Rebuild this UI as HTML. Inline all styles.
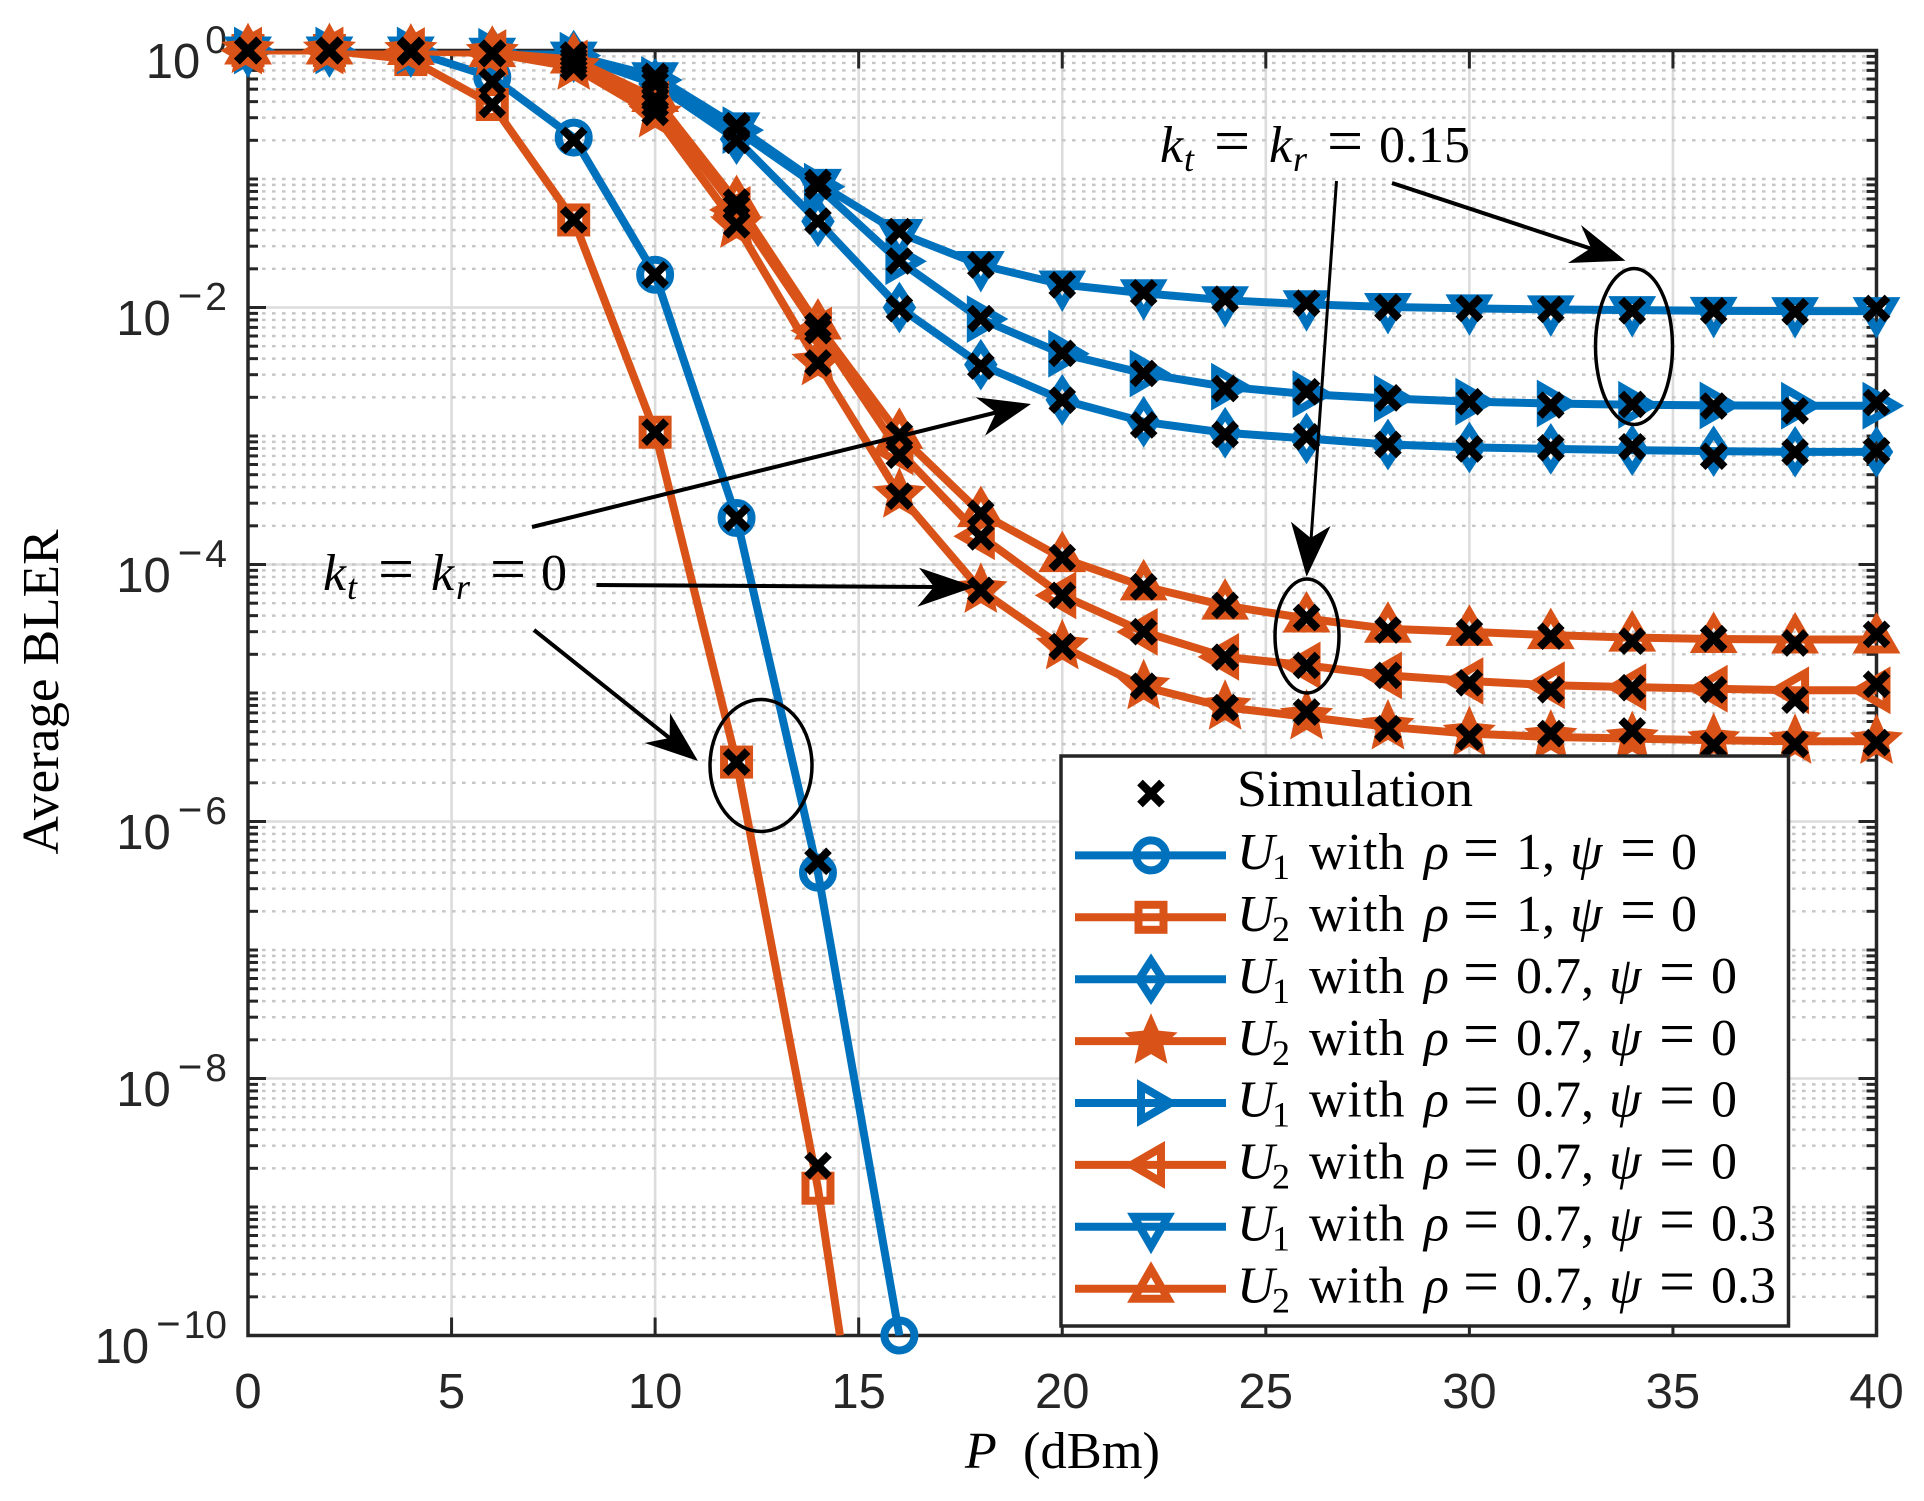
<!DOCTYPE html>
<html lang="en">
<head>
<meta charset="utf-8">
<title>Average BLER versus P</title>
<style>
  html, body { margin: 0; padding: 0; background: #fff; width: 1924px; height: 1501px; overflow: hidden; }
  svg { display: block; overflow: hidden; }
  .tick-text { font-family: "Liberation Sans", sans-serif; font-size: 49px; fill: #262626; }
  .math { font-family: "Liberation Serif", serif; font-size: 52px; fill: #000; }
  .it { font-style: italic; }
  .eq { font-size: 64px; }
  .sub { font-size: 36px; }
</style>
</head>
<body>
<svg id="chart" xmlns="http://www.w3.org/2000/svg" width="1924" height="1501" viewBox="0 0 1924 1501">
  <rect x="0" y="0" width="1924" height="1501" fill="#fff"/>
  <defs>
    <clipPath id="plot-clip"><rect x="248" y="50.5" width="1628.5" height="1285"/></clipPath>
  </defs>
  <g id="grid-layer"></g>
  <g id="axes-layer"></g>
  <g id="series-layer"></g>
  <g id="sim-layer"></g>

  <g fill="#000" stroke="none">
    <ellipse cx="1634" cy="346.5" rx="38.5" ry="78" fill="none" stroke="#000" stroke-width="3.5"/>
    <ellipse cx="1307" cy="636" rx="32" ry="57" fill="none" stroke="#000" stroke-width="3.5"/>
    <ellipse cx="761" cy="765.5" rx="51" ry="66" fill="none" stroke="#000" stroke-width="3.5"/>

    <g>
      <line x1="1392" y1="183" x2="1595" y2="250" stroke="#000" stroke-width="4"/>
      <polygon points="1625.5,260.7 1581,225 1591,248 1568,263"/>
    </g>
    <g>
      <line x1="1336.5" y1="181" x2="1311" y2="540" stroke="#000" stroke-width="3"/>
      <polygon points="1306.6,576.7 1291,521.7 1310.7,538 1330.6,526"/>
    </g>
    <g>
      <line x1="532" y1="527" x2="998" y2="412" stroke="#000" stroke-width="4"/>
      <polygon points="1031,404 975.6,397.3 996,412.6 985,435.7"/>
    </g>
    <g>
      <line x1="596.4" y1="585" x2="936" y2="587" stroke="#000" stroke-width="4"/>
      <polygon points="975,586.7 919,567.7 934,586.7 917.3,606.7"/>
    </g>
    <g>
      <line x1="534" y1="630" x2="672" y2="740" stroke="#000" stroke-width="4"/>
      <polygon points="698,761 670,713 669.6,738 644.6,743"/>
    </g>

    <text class="math" y="162"><tspan class="it" x="1160">k</tspan><tspan class="it sub" x="1184" dy="9">t</tspan><tspan class="eq" x="1214" dy="-9">=</tspan><tspan class="it" x="1269">k</tspan><tspan class="it sub" x="1293" dy="9">r</tspan><tspan class="eq" x="1327" dy="-9">=</tspan><tspan x="1379">0.15</tspan></text>
    <text class="math" y="590"><tspan class="it" x="323">k</tspan><tspan class="it sub" x="347" dy="9">t</tspan><tspan class="eq" x="378" dy="-9">=</tspan><tspan class="it" x="431">k</tspan><tspan class="it sub" x="456" dy="9">r</tspan><tspan class="eq" x="490" dy="-9">=</tspan><tspan x="541">0</tspan></text>
  </g>

  <g id="legend">
    <rect x="1061" y="756" width="727.5" height="570" fill="#fff" stroke="#262626" stroke-width="3.5"/>
    <g id="legend-icons"></g>
    <text class="math" x="1237" y="806" textLength="236" lengthAdjust="spacingAndGlyphs">Simulation</text>
    <text class="math" y="869"><tspan class="it" x="1237">U</tspan><tspan class="sub" x="1272" dy="10">1</tspan><tspan x="1309" dy="-10" letter-spacing="1">with</tspan><tspan class="it" x="1424">ρ</tspan><tspan class="eq" x="1463">=</tspan><tspan x="1516">1,</tspan><tspan class="it" x="1570">ψ</tspan><tspan class="eq" x="1620">=</tspan><tspan x="1671">0</tspan></text>
    <text class="math" y="931"><tspan class="it" x="1237">U</tspan><tspan class="sub" x="1272" dy="10">2</tspan><tspan x="1309" dy="-10" letter-spacing="1">with</tspan><tspan class="it" x="1424">ρ</tspan><tspan class="eq" x="1463">=</tspan><tspan x="1516">1,</tspan><tspan class="it" x="1570">ψ</tspan><tspan class="eq" x="1620">=</tspan><tspan x="1671">0</tspan></text>
    <text class="math" y="993"><tspan class="it" x="1237">U</tspan><tspan class="sub" x="1272" dy="10">1</tspan><tspan x="1309" dy="-10" letter-spacing="1">with</tspan><tspan class="it" x="1424">ρ</tspan><tspan class="eq" x="1463">=</tspan><tspan x="1516">0.7,</tspan><tspan class="it" x="1609">ψ</tspan><tspan class="eq" x="1659">=</tspan><tspan x="1711">0</tspan></text>
    <text class="math" y="1055"><tspan class="it" x="1237">U</tspan><tspan class="sub" x="1272" dy="10">2</tspan><tspan x="1309" dy="-10" letter-spacing="1">with</tspan><tspan class="it" x="1424">ρ</tspan><tspan class="eq" x="1463">=</tspan><tspan x="1516">0.7,</tspan><tspan class="it" x="1609">ψ</tspan><tspan class="eq" x="1659">=</tspan><tspan x="1711">0</tspan></text>
    <text class="math" y="1116.500"><tspan class="it" x="1237">U</tspan><tspan class="sub" x="1272" dy="10">1</tspan><tspan x="1309" dy="-10" letter-spacing="1">with</tspan><tspan class="it" x="1424">ρ</tspan><tspan class="eq" x="1463">=</tspan><tspan x="1516">0.7,</tspan><tspan class="it" x="1609">ψ</tspan><tspan class="eq" x="1659">=</tspan><tspan x="1711">0</tspan></text>
    <text class="math" y="1178.500"><tspan class="it" x="1237">U</tspan><tspan class="sub" x="1272" dy="10">2</tspan><tspan x="1309" dy="-10" letter-spacing="1">with</tspan><tspan class="it" x="1424">ρ</tspan><tspan class="eq" x="1463">=</tspan><tspan x="1516">0.7,</tspan><tspan class="it" x="1609">ψ</tspan><tspan class="eq" x="1659">=</tspan><tspan x="1711">0</tspan></text>
    <text class="math" y="1240.500"><tspan class="it" x="1237">U</tspan><tspan class="sub" x="1272" dy="10">1</tspan><tspan x="1309" dy="-10" letter-spacing="1">with</tspan><tspan class="it" x="1424">ρ</tspan><tspan class="eq" x="1463">=</tspan><tspan x="1516">0.7,</tspan><tspan class="it" x="1609">ψ</tspan><tspan class="eq" x="1659">=</tspan><tspan x="1711">0.3</tspan></text>
    <text class="math" y="1302.500"><tspan class="it" x="1237">U</tspan><tspan class="sub" x="1272" dy="10">2</tspan><tspan x="1309" dy="-10" letter-spacing="1">with</tspan><tspan class="it" x="1424">ρ</tspan><tspan class="eq" x="1463">=</tspan><tspan x="1516">0.7,</tspan><tspan class="it" x="1609">ψ</tspan><tspan class="eq" x="1659">=</tspan><tspan x="1711">0.3</tspan></text>
  </g>

  <text class="math" y="1468" font-size="50"><tspan class="it" x="965">P</tspan><tspan x="1023" textLength="137" lengthAdjust="spacingAndGlyphs">(dBm)</tspan></text>
  <text class="math" transform="translate(58,692) rotate(-90)" text-anchor="middle" textLength="325" lengthAdjust="spacingAndGlyphs">Average BLER</text>
</svg>

<script>
// ---- chart data ----
const powerDbm = [0,2,4,6,8,10,12,14,16,18,20,22,24,26,28,30,32,34,36,38,40];

const u1Rho1 = [1,1,0.99,0.62,0.21,0.018,2.3e-4,4.0e-7,1e-10];
const u2Rho1 = [1,1,0.85,0.38,0.048,1.07e-3,2.9e-6,1.4e-9,8e-14];
const u1Diamond = [1,1,1,0.977,0.912,0.55,0.204,0.0468,0.01,3.59e-3,1.91e-3,1.29e-3,1.06e-3,9.57e-4,8.59e-4,8.15e-4,7.94e-4,7.76e-4,7.62e-4,7.53e-4,7.53e-4];
const u2Star = [1,1,0.99,0.955,0.741,0.316,0.0437,3.72e-3,3.47e-4,6.31e-5,2.29e-5,1.12e-5,7.76e-6,6.52e-6,5.45e-6,4.83e-6,4.55e-6,4.42e-6,4.29e-6,4.21e-6,4.21e-6];
const u1Right = [1,1,1,0.977,0.912,0.589,0.24,0.0871,0.0229,8.13e-3,4.37e-3,3.07e-3,2.42e-3,2.12e-3,1.96e-3,1.85e-3,1.79e-3,1.75e-3,1.73e-3,1.72e-3,1.72e-3];
const u2Left = [1,1,0.99,0.955,0.794,0.38,0.0575,6.61e-3,7.59e-4,1.66e-4,5.75e-5,2.99e-5,1.91e-5,1.64e-5,1.37e-5,1.24e-5,1.15e-5,1.11e-5,1.08e-5,1.05e-5,1.05e-5];
const u1Down = [1,1,1,0.977,0.912,0.631,0.257,0.0933,0.038,0.0214,0.0151,0.0129,0.0114,0.0106,0.0101,9.84e-3,9.66e-3,9.55e-3,9.42e-3,9.38e-3,9.38e-3];
const u2Up = [1,1,0.99,0.955,0.851,0.427,0.0661,7.24e-3,1.02e-3,2.51e-4,1.12e-4,6.76e-5,4.79e-5,3.8e-5,3.16e-5,2.99e-5,2.82e-5,2.7e-5,2.63e-5,2.61e-5,2.61e-5];

const simU1Rho1 = [1,1,0.98,0.57,0.2,0.018,2.3e-4,4.9e-7];
const simU2Rho1 = [1,1,0.98,0.38,0.048,1.07e-3,2.9e-6,2.1e-9];
const simU1Diamond = [1,1,1,0.95,0.92,0.55,0.2,0.047,0.0098,3.5e-3,1.9e-3,1.22e-3,1.03e-3,9.85e-4,8.59e-4,7.94e-4,8.09e-4,8.24e-4,6.97e-4,7.48e-4,7.67e-4];
const simU2Star = [1,1,0.98,0.95,0.74,0.33,0.044,3.7e-3,3.4e-4,6.3e-5,2.3e-5,1.13e-5,7.7e-6,7.11e-6,5.28e-6,4.55e-6,4.83e-6,5.07e-6,3.92e-6,3.99e-6,4.11e-6];
const simU1Right = [1,1,1,0.95,0.92,0.6,0.25,0.088,0.023,8.2e-3,4.4e-3,3.07e-3,2.34e-3,2.21e-3,1.98e-3,1.85e-3,1.74e-3,1.76e-3,1.71e-3,1.57e-3,1.82e-3];
const simU2Left = [1,1,0.98,0.95,0.8,0.38,0.06,6.6e-3,7.1e-4,1.64e-4,5.75e-5,3.0e-5,1.9e-5,1.64e-5,1.37e-5,1.2e-5,1.06e-5,1.1e-5,1.06e-5,8.8e-6,1.17e-5];
const simU1Down = [1,1,1,0.95,0.92,0.63,0.26,0.094,0.039,0.0214,0.015,0.013,0.0116,0.0108,0.01,9.84e-3,9.66e-3,9.42e-3,9.42e-3,9.27e-3,9.84e-3];
const simU2Up = [1,1,0.98,0.95,0.85,0.42,0.066,7.2e-3,1.02e-3,2.5e-4,1.13e-4,6.7e-5,4.8e-5,3.86e-5,3.09e-5,2.97e-5,2.77e-5,2.53e-5,2.65e-5,2.45e-5,2.86e-5];

const xTickValues = [0,5,10,15,20,25,30,35,40];
const xTickLabels = ['0','5','10','15','20','25','30','35','40'];
const yMajorExponents = [0,-2,-4,-6,-8,-10];
const yMajorLabels = ['0','2','4','6','8','10'];
const yMinorFactors = [2,3,4,5,6,7,8,9];
const yDecades = [-1,-2,-3,-4,-5,-6,-7,-8,-9,-10];

// ---- layout ----
const SVGNS = 'http://www.w3.org/2000/svg';
const plotLeft = 248, plotRight = 1876.5, plotTop = 50.5, plotBottom = 1335.5;
const xMin = 0, xMax = 40, yMinExp = -10, yMaxExp = 0;
const BLUE = '#0072BD', ORANGE = '#D95319', AXIS = '#262626', LINE_W = 8;

function xScale(p) { return plotLeft + (p - xMin) / (xMax - xMin) * (plotRight - plotLeft); }
function yScale(v) { return plotTop + (yMaxExp - Math.log10(v)) / (yMaxExp - yMinExp) * (plotBottom - plotTop); }

function mk(tag, attrs) {
  const el = document.createElementNS(SVGNS, tag);
  for (const k in attrs) el.setAttribute(k, attrs[k]);
  return el;
}
function markerShape(type, cx, cy, color) {
  const base = { fill: 'none', stroke: color, 'stroke-width': LINE_W, 'stroke-linejoin': 'miter', 'stroke-miterlimit': 10 };
  const poly = (pts, extra) => mk('polygon', Object.assign({}, base, extra || {}, {
    points: pts.map(q => (cx + q[0]).toFixed(2) + ',' + (cy + q[1]).toFixed(2)).join(' ')
  }));
  switch (type) {
    case 'circle': return mk('circle', Object.assign({}, base, { cx: cx, cy: cy, r: 15 }));
    case 'square': return mk('rect', Object.assign({}, base, { x: cx - 12.5, y: cy - 12.5, width: 25, height: 25 }));
    case 'diamond': return poly([[0,-18.5],[12,0],[0,18.5],[-12,0]]);
    case 'down': return poly([[-17,-10],[17,-10],[0,19.5]]);
    case 'up': return poly([[-17,10],[17,10],[0,-19.5]]);
    case 'right': return poly([[-10,-17],[-10,17],[19.5,0]]);
    case 'left': return poly([[10,-17],[10,17],[-19.5,0]]);
    case 'star': {
      const pts = [];
      for (let i = 0; i < 10; i++) {
        const r = i % 2 ? 13 : 28;
        const a = -Math.PI / 2 + i * Math.PI / 5;
        pts.push([r * Math.cos(a), r * Math.sin(a)]);
      }
      return poly(pts, { fill: color, stroke: 'none' });
    }
  }
}
function crossShape(cx, cy) {
  const d = 'M' + (cx - 11) + ' ' + (cy - 11) + 'L' + (cx + 11) + ' ' + (cy + 11) +
            'M' + (cx + 11) + ' ' + (cy - 11) + 'L' + (cx - 11) + ' ' + (cy + 11);
  return mk('path', { d: d, fill: 'none', stroke: '#000', 'stroke-width': 8 });
}
// Polyline points, stopped where the curve leaves the bottom of the plot.
function linePoints(values) {
  const out = [];
  for (let i = 0; i < values.length; i++) {
    const x = xScale(powerDbm[i]), y = yScale(values[i]);
    if (y > plotBottom && i > 0) {
      const px = xScale(powerDbm[i - 1]), py = yScale(values[i - 1]);
      const t = (plotBottom - py) / (y - py);
      out.push((px + (x - px) * t).toFixed(2) + ',' + plotBottom);
      break;
    }
    out.push(x.toFixed(2) + ',' + y.toFixed(2));
  }
  return out.join(' ');
}

// ---- grid ----
const gridLayer = document.getElementById('grid-layer');
xTickValues.forEach(function (t) {
  const ln = mk('line', { x1: xScale(t), x2: xScale(t), y1: plotTop, y2: plotBottom, stroke: '#dcdcdc', 'stroke-width': 2.6 });
  
  
  gridLayer.appendChild(ln);
});
yMajorExponents.forEach(function (e) {
  const y = yScale(Math.pow(10, e));
  const ln = mk('line', { x1: plotLeft, x2: plotRight, y1: y, y2: y, stroke: '#dcdcdc', 'stroke-width': 2.6 });
  
  
  gridLayer.appendChild(ln);
});
function addMinorGrid(v) {
  const y = yScale(v);
  const ln = mk('line', { x1: plotLeft + 14, x2: plotRight, y1: y, y2: y, stroke: '#c6c6c6', 'stroke-width': 2.4, 'stroke-dasharray': '3.6 6.4' });
  
  
  gridLayer.appendChild(ln);
}
yDecades.forEach(function (d) {
  yMinorFactors.forEach(function (f) { addMinorGrid(f * Math.pow(10, d)); });
  if (d % 2 !== 0 || d === -4) addMinorGrid(Math.pow(10, d));
});

// ---- axes ----
const axesLayer = document.getElementById('axes-layer');
const box = mk('rect', { x: plotLeft, y: plotTop, width: plotRight - plotLeft, height: plotBottom - plotTop, fill: 'none', stroke: AXIS, 'stroke-width': 3.5 });


axesLayer.appendChild(box);

function addTick(x1, y1, x2, y2) {
  const ln = mk('line', { x1: x1, y1: y1, x2: x2, y2: y2, stroke: AXIS, 'stroke-width': 3 });
  
  
  axesLayer.appendChild(ln);
}
xTickValues.forEach(function (t, i) {
  const x = xScale(t);
  addTick(x, plotBottom, x, plotBottom - 18);
  addTick(x, plotTop, x, plotTop + 18);
  const lab = mk('text', { x: x, y: 1408, 'text-anchor': 'middle', class: 'tick-text' });
  lab.textContent = xTickLabels[i];
  
  
  axesLayer.appendChild(lab);
});
yMajorExponents.forEach(function (e, i) {
  const y = yScale(Math.pow(10, e));
  addTick(plotLeft, y, plotLeft + 18, y);
  addTick(plotRight, y, plotRight - 18, y);
  const lab = mk('text', { x: 227, y: y + 27.5, 'text-anchor': 'end', class: 'tick-text' });
  const base = mk('tspan', {});
  base.textContent = '10';
  lab.appendChild(base);
  if (e < 0) {
    const minus = mk('tspan', { dx: 7, dy: -25, 'font-size': 42 });
    minus.textContent = '\u2212';
    lab.appendChild(minus);
    const sup = mk('tspan', { dx: 3, 'font-size': 39 });
    sup.textContent = yMajorLabels[i];
    lab.appendChild(sup);
  } else {
    const sup = mk('tspan', { dx: 5, dy: -25, 'font-size': 39 });
    sup.textContent = yMajorLabels[i];
    lab.appendChild(sup);
  }
  
  
  axesLayer.appendChild(lab);
});
function addMinorTick(v) {
  const y = yScale(v);
  addTick(plotLeft, y, plotLeft + 10, y);
  addTick(plotRight, y, plotRight - 10, y);
}
yDecades.forEach(function (d) {
  yMinorFactors.forEach(function (f) { addMinorTick(f * Math.pow(10, d)); });
  if (d % 2 !== 0) addMinorTick(Math.pow(10, d));
});

// ---- series ----
const seriesLayer = document.getElementById('series-layer');
const simLayer = document.getElementById('sim-layer');
const seriesList = [
  { id: 'u1-rho1', values: u1Rho1, sim: simU1Rho1, color: BLUE, marker: 'circle' },
  { id: 'u2-rho1', values: u2Rho1, sim: simU2Rho1, color: ORANGE, marker: 'square' },
  { id: 'u1-diamond', values: u1Diamond, sim: simU1Diamond, color: BLUE, marker: 'diamond' },
  { id: 'u1-right', values: u1Right, sim: simU1Right, color: BLUE, marker: 'right' },
  { id: 'u1-down', values: u1Down, sim: simU1Down, color: BLUE, marker: 'down' },
  { id: 'u2-star', values: u2Star, sim: simU2Star, color: ORANGE, marker: 'star' },
  { id: 'u2-left', values: u2Left, sim: simU2Left, color: ORANGE, marker: 'left' },
  { id: 'u2-up', values: u2Up, sim: simU2Up, color: ORANGE, marker: 'up' }
];
function inRange(v) { return Math.log10(v) >= yMinExp - 1e-9 && Math.log10(v) <= yMaxExp + 1e-9; }

seriesList.forEach(function (s) {
  const g = mk('g', {});
  
  
  const line = mk('polyline', { points: linePoints(s.values), fill: 'none', stroke: s.color, 'stroke-width': LINE_W, 'stroke-linejoin': 'round', 'clip-path': 'url(#plot-clip)' });
  
  
  g.appendChild(line);
  s.values.forEach(function (v, i) {
    if (!inRange(v)) return;
    const m = markerShape(s.marker, xScale(powerDbm[i]), yScale(v), s.color);
    
    
    g.appendChild(m);
  });
  seriesLayer.appendChild(g);
  s.sim.forEach(function (v, i) {
    if (!inRange(v)) return;
    const c = crossShape(xScale(powerDbm[i]), yScale(v));
    
    
    simLayer.appendChild(c);
  });
});

// ---- legend icons ----
const legendIcons = document.getElementById('legend-icons');
const legendCx = 1151, lineX1 = 1075, lineX2 = 1226, firstRowY = 793.5, rowStep = 61.9;
const legendCross = crossShape(legendCx, firstRowY);


legendIcons.appendChild(legendCross);
const legendOrder = [
  ['circle', BLUE], ['square', ORANGE], ['diamond', BLUE], ['star', ORANGE],
  ['right', BLUE], ['left', ORANGE], ['down', BLUE], ['up', ORANGE]
];
legendOrder.forEach(function (row, i) {
  const y = firstRowY + rowStep * (i + 1);
  const ln = mk('line', { x1: lineX1, x2: lineX2, y1: y, y2: y, stroke: row[1], 'stroke-width': LINE_W });
  
  
  legendIcons.appendChild(ln);
  const m = markerShape(row[0], legendCx, y, row[1]);
  
  
  legendIcons.appendChild(m);
});
</script>
</body>
</html>
